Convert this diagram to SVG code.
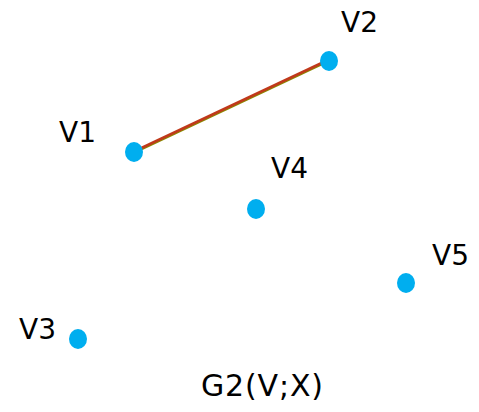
<svg xmlns="http://www.w3.org/2000/svg" width="479" height="412" viewBox="0 0 479 412">
<style>
.n{fill:#00aeef}
.t{font-family:"DejaVu Sans",sans-serif;font-size:28px;fill:#000}
</style>
<rect width="479" height="412" fill="#fff"/>
<g id="edges">
<line x1="135" y1="152" x2="328" y2="61" stroke="#8a8a00" stroke-width="3"/>
<line x1="135" y1="151" x2="328" y2="60" stroke="#c0391b" stroke-width="2.5"/>
</g>
<g id="V1"><ellipse class="n" cx="134" cy="152" rx="9" ry="10"/><text class="t" x="59" y="142">V1</text></g>
<g id="V2"><ellipse class="n" cx="329" cy="61" rx="9" ry="10"/><text class="t" x="341" y="32">V2</text></g>
<g id="V3"><ellipse class="n" cx="78" cy="339" rx="9" ry="10"/><text class="t" x="19" y="339">V3</text></g>
<g id="V4"><ellipse class="n" cx="256" cy="209" rx="9" ry="10"/><text class="t" x="271" y="178">V4</text></g>
<g id="V5"><ellipse class="n" cx="406" cy="283" rx="9" ry="10"/><text class="t" x="432" y="265">V5</text></g>
<g id="title"><text class="t" x="201" y="396" style="font-size:30px" textLength="122" lengthAdjust="spacing">G2(V;X)</text></g>
</svg>
